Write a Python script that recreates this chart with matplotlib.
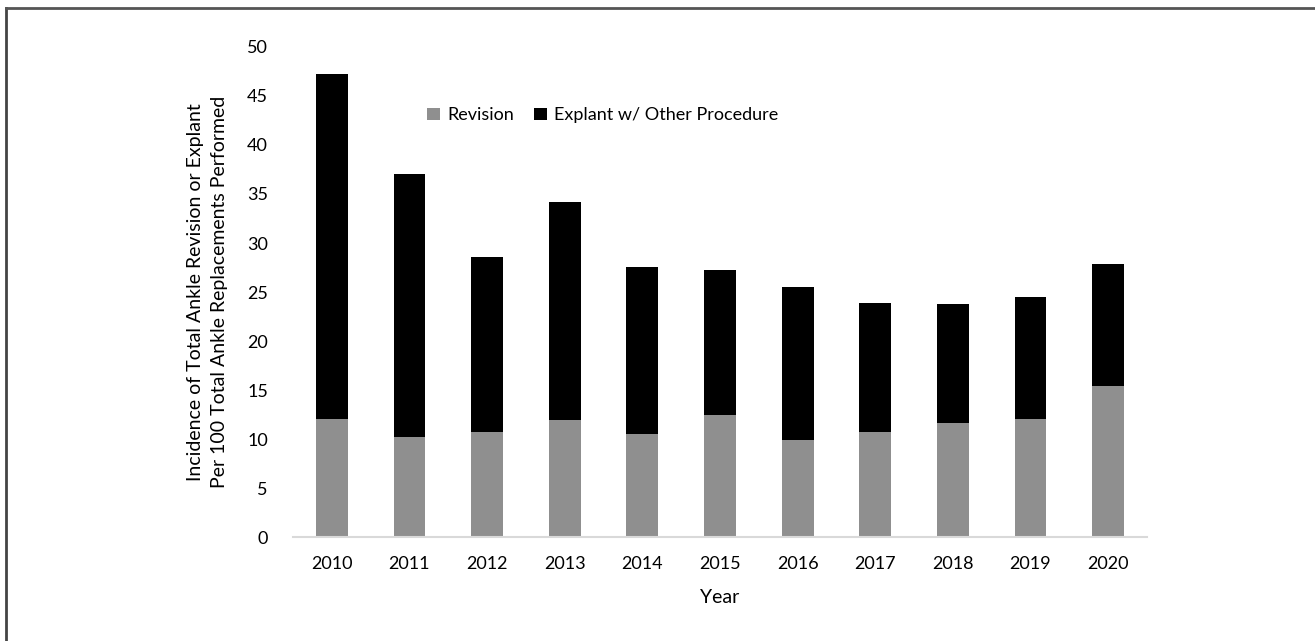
import numpy as np
import matplotlib.pyplot as plt
from matplotlib.lines import Line2D

years = ["2010", "2011", "2012", "2013", "2014", "2015", "2016", "2017", "2018", "2019", "2020"]
revision = [12.0, 10.2, 10.7, 11.9, 10.5, 12.4, 9.9, 10.7, 11.6, 12.0, 15.4]
total = [47.2, 37.0, 28.6, 34.2, 27.6, 27.2, 25.5, 23.9, 23.8, 24.5, 27.9]
explant = [t - r for t, r in zip(total, revision)]

plt.rcParams['font.family'] = ['Lato', 'DejaVu Sans']

fig = plt.figure(figsize=(13.15, 6.41), dpi=100)
ax = fig.add_axes([0.2228, 0.1622, 0.6494, 0.7645])

x = np.arange(len(years))
w = 0.41
ax.bar(x, revision, w, color="#8f8f8f", label="Revision")
ax.bar(x, explant, w, bottom=revision, color="black", label="Explant w/ Other Procedure")

ax.set_xlim(-0.5, len(years) - 0.5)
ax.set_ylim(0, 50)
ax.set_yticks(np.arange(0, 51, 5))
ax.set_xticks(x)
ax.set_xticklabels(years)
ax.tick_params(axis="both", length=0, labelsize=13)
ax.tick_params(axis="x", pad=14)
ax.tick_params(axis="y", pad=18)

for s in ["top", "right", "left"]:
    ax.spines[s].set_visible(False)
ax.spines["bottom"].set_color("#d9d9d9")
ax.spines["bottom"].set_linewidth(1.5)

ax.set_xlabel("Year", fontsize=14, labelpad=12)
ax.set_ylabel("Incidence of Total Ankle Revision or Explant\nPer 100 Total Ankle Replacements Performed",
              fontsize=14, labelpad=14, linespacing=1.45)

ax.legend(loc="upper left", bbox_to_anchor=(0.138, 0.91), ncol=2, frameon=False,
          fontsize=13, handlelength=0.7, handleheight=0.7, columnspacing=1.15, handletextpad=0.4)

# frame around the figure (only top and left visible)
fig.add_artist(Line2D([6 / 1315, 6 / 1315], [0, 1 - 8 / 641], color="#444444", lw=2))
fig.add_artist(Line2D([6 / 1315, 1], [1 - 8 / 641, 1 - 8 / 641], color="#555555", lw=2))

fig.savefig("out.png", dpi=100)
